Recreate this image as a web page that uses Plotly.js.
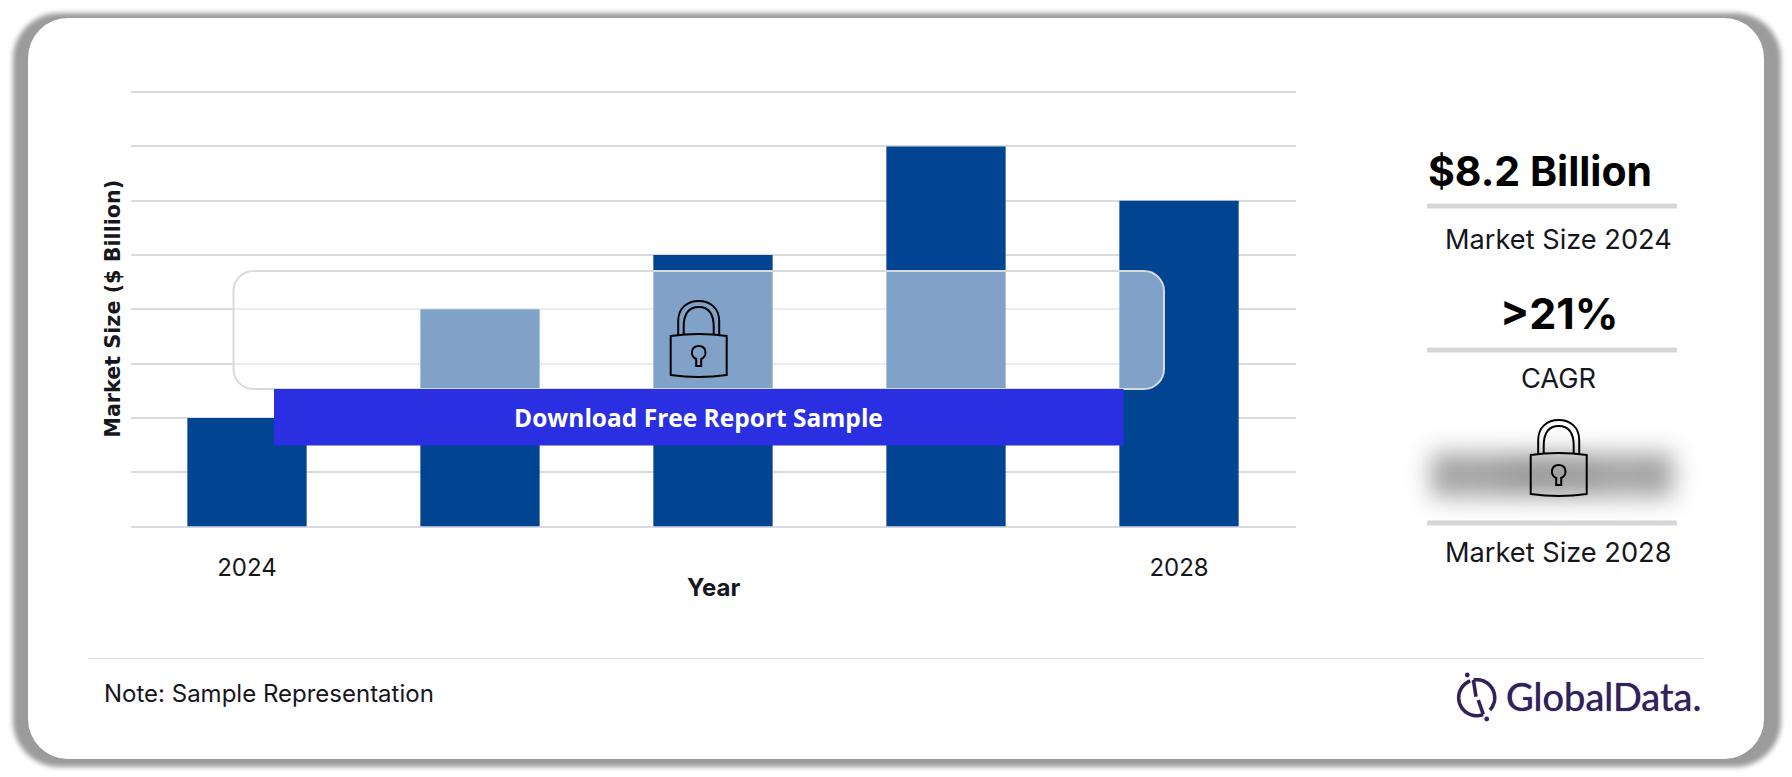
<!DOCTYPE html>
<html>
<head>
<meta charset="utf-8">
<script src="https://cdn.plot.ly/plotly-3.0.1.min.js"></script>
<style>
html,body{margin:0;padding:0;background:#fff;width:1792px;height:777px;overflow:hidden}
.abs{position:absolute}
#frame{left:13px;top:13px;width:1768px;height:754px;background:#9b9b9b;border-radius:46px;filter:blur(2.5px)}
#card{left:28px;top:18px;width:1736px;height:741px;background:#fff;border-radius:40px}
#smudge{left:1431px;top:453px;width:242px;height:44px;filter:blur(12px);
  background:linear-gradient(90deg,#a2a2a2 0%,#a6a6a6 20%,#9a9a9a 38%,#9c9c9c 62%,#a8a8a8 78%,#a0a0a0 100%)}
#chart{left:0;top:0;width:1792px;height:777px}
</style>
</head>
<body>
<div id="frame" class="abs"></div>
<div id="card" class="abs"></div>
<div id="smudge" class="abs"></div>
<div id="chart" class="abs"></div>
<script>
const years = [2024, 2025, 2026, 2027, 2028];
const marketSize = [2, 4, 5, 7, 6];
const tickYears = [2024, 2028];
const tickLabels = ['2024', '2028'];
const barColor = '#004492';
const gridColor = '#d9d9e0';
const ruleColor = '#d6d6d6';
const logoColor = '#32215a';
const inkColor = '#16161d';
const W = 1792, H = 777;
const bodyFont = 'Inter, "Noto Sans", sans-serif';

// page pixels -> paper fractions, for the decorative shapes only
const px = s => {
  let i = 0;
  return s.replace(/-?\d+(\.\d+)?/g, n => {
    const v = parseFloat(n);
    return ((i++ % 2 === 0) ? v / W : 1 - v / H).toFixed(5);
  });
};
const lineShape = (x0, y0, x1, y1, color, width) => ({
  type: 'line', xref: 'paper', yref: 'paper', layer: 'above',
  x0: x0 / W, x1: x1 / W, y0: 1 - y0 / H, y1: 1 - y1 / H,
  line: {color, width}
});
const pathShape = (d, color, width, fill) => ({
  type: 'path', xref: 'paper', yref: 'paper', layer: 'above', path: px(d),
  line: {color, width}, fillcolor: fill || 'rgba(0,0,0,0)'
});
const rectShape = (x0, y0, x1, y1, fill) => ({
  type: 'rect', xref: 'paper', yref: 'paper', layer: 'above',
  x0: x0 / W, x1: x1 / W, y0: 1 - y0 / H, y1: 1 - y1 / H,
  fillcolor: fill, line: {width: 0}
});
const roundRect = (x0, y0, x1, y1, r) => {
  const k = r * 0.45;
  return `M ${x0 + r} ${y0} L ${x1 - r} ${y0} C ${x1 - k} ${y0} ${x1} ${y0 + k} ${x1} ${y0 + r} ` +
    `L ${x1} ${y1 - r} C ${x1} ${y1 - k} ${x1 - k} ${y1} ${x1 - r} ${y1} ` +
    `L ${x0 + r} ${y1} C ${x0 + k} ${y1} ${x0} ${y1 - k} ${x0} ${y1 - r} ` +
    `L ${x0} ${y0 + r} C ${x0} ${y0 + k} ${x0 + k} ${y0} ${x0 + r} ${y0} Z`;
};
const lock = (cx, top) => {
  const t = top;
  const body = `M ${cx - 28} ${t + 35} Q ${cx} ${t + 31} ${cx + 28} ${t + 35} L ${cx + 28} ${t + 74} Q ${cx} ${t + 78} ${cx - 28} ${t + 74} Z`;
  const arch = (h, dy) => `M ${cx - h} ${t + 34} L ${cx - h} ${t + 20 + dy} C ${cx - h} ${t + 7 + dy * 0.6} ${cx - h * 0.55} ${t + dy} ${cx} ${t + dy} ` +
    `C ${cx + h * 0.55} ${t + dy} ${cx + h} ${t + 7 + dy * 0.6} ${cx + h} ${t + 20 + dy} L ${cx + h} ${t + 34}`;
  const key = `M ${cx - 2.5} ${t + 58} C ${cx - 9} ${t + 55} ${cx - 8} ${t + 45} ${cx} ${t + 45} C ${cx + 8} ${t + 45} ${cx + 9} ${t + 55} ${cx + 2.5} ${t + 58} L ${cx + 2.5} ${t + 65} L ${cx - 2.5} ${t + 65} Z`;
  return [pathShape(body, '#000', 2), pathShape(arch(20.5, 0), '#000', 2), pathShape(arch(15, 6), '#000', 2), pathShape(key, '#000', 2)];
};
const arc = (cx, cy, r, a0, a1) => {
  const pts = [];
  for (let i = 0; i <= 40; i++) {
    const a = (a0 + (a1 - a0) * i / 40) * Math.PI / 180;
    pts.push(`${i ? 'L' : 'M'} ${(cx + r * Math.cos(a)).toFixed(2)} ${(cy + r * Math.sin(a)).toFixed(2)}`);
  }
  return pts.join(' ');
};
const dot = (x, y, r) => ({
  type: 'circle', xref: 'paper', yref: 'paper', layer: 'above',
  x0: (x - r) / W, x1: (x + r) / W, y0: 1 - (y + r) / H, y1: 1 - (y - r) / H,
  fillcolor: logoColor, line: {width: 0}
});

const shapes = [
  pathShape(roundRect(233.5, 271, 1164, 389, 20), '#d9d9d9', 2, 'rgba(255,255,255,0.5)'),
  rectShape(274, 389, 1123.5, 445.5, '#2b2fe2'),
  ...lock(698.7, 301),
  rectShape(1427, 203.5, 1677, 208.5, ruleColor),
  rectShape(1427, 347.5, 1677, 352.5, ruleColor),
  rectShape(1427, 520.5, 1677, 525.5, ruleColor),
  ...lock(1558.7, 420),
  lineShape(88, 658.7, 1704, 658.7, '#dcdcdc', 1),
  pathShape(arc(1476.7, 697.7, 18, 249, 69), logoColor, 3.6),
  pathShape(arc(1476.7, 697.7, 18, -100, 43), logoColor, 3.6),
  pathShape('M 1473.4 680 L 1476 696.7', logoColor, 3.6),
  pathShape('M 1478.3 700 L 1483.3 714.3', logoColor, 3.6),
  dot(1467.3, 675, 2.4),
  dot(1486.7, 719, 2.4)
];

const label = (text, x, y, size, opts) => Object.assign({
  text, xref: 'paper', yref: 'paper', x: x / W, y: 1 - y / H,
  xanchor: 'center', yanchor: 'middle', showarrow: false,
  font: {family: bodyFont, size, color: inkColor}
}, opts || {});

const annotations = [
  label('<b>Download Free Report Sample</b>', 698, 418, 24.5, {font: {family: '"Open Sans", sans-serif', size: 24.5, color: '#fff'}}),
  label('<b>$8.2 Billion</b>', 1540, 171, 41, {font: {family: bodyFont, size: 41, color: '#000'}}),
  label('Market Size 2024', 1558, 239, 27.2),
  label('<b>&gt;21%</b>', 1559, 313, 43, {font: {family: bodyFont, size: 43, color: '#000'}}),
  label('CAGR', 1558, 378, 27.2),
  label('Market Size 2028', 1558, 552, 27.2),
  label('<b>Year</b>', 713, 587, 24),
  label('Note: Sample Representation', 269, 693, 24),
  label('GlobalData.', 1603.5, 696, 38, {font: {family: 'Lato, sans-serif', size: 38, color: logoColor, shadow: '0 0 1px #32215a'}})
];

const trace = {
  type: 'bar', x: years, y: marketSize,
  marker: {color: barColor, line: {width: 0}},
  width: 0.512, hoverinfo: 'x+y'
};

const layout = {
  width: W, height: H,
  margin: {l: 0, r: 0, t: 0, b: 0, pad: 0},
  paper_bgcolor: 'rgba(0,0,0,0)', plot_bgcolor: 'rgba(0,0,0,0)',
  showlegend: false,
  xaxis: {
    domain: [130.5 / W, 1295.5 / W],
    range: [2023.5, 2028.5],
    tickmode: 'array', tickvals: tickYears, ticktext: tickLabels,
    ticks: 'outside', ticklen: 20, tickcolor: 'rgba(0,0,0,0)',
    tickfont: {family: bodyFont, size: 24, color: inkColor},
    showgrid: false, zeroline: false, showline: false
  },
  yaxis: {
    domain: [1 - 526.5 / H, 1 - 91 / H],
    range: [0, 8.02], dtick: 1,
    showticklabels: false, ticks: '',
    showgrid: true, gridcolor: gridColor, gridwidth: 2,
    zeroline: true, zerolinecolor: gridColor, zerolinewidth: 2, showline: false,
    title: {text: '<b>Market Size ($ Billion)</b>', font: {family: '"DejaVu Sans", sans-serif', size: 20.7, color: inkColor}, standoff: 3}
  },
  shapes, annotations
};

Plotly.newPlot('chart', [trace], layout, {displayModeBar: false, staticPlot: true});
</script>
</body>
</html>
